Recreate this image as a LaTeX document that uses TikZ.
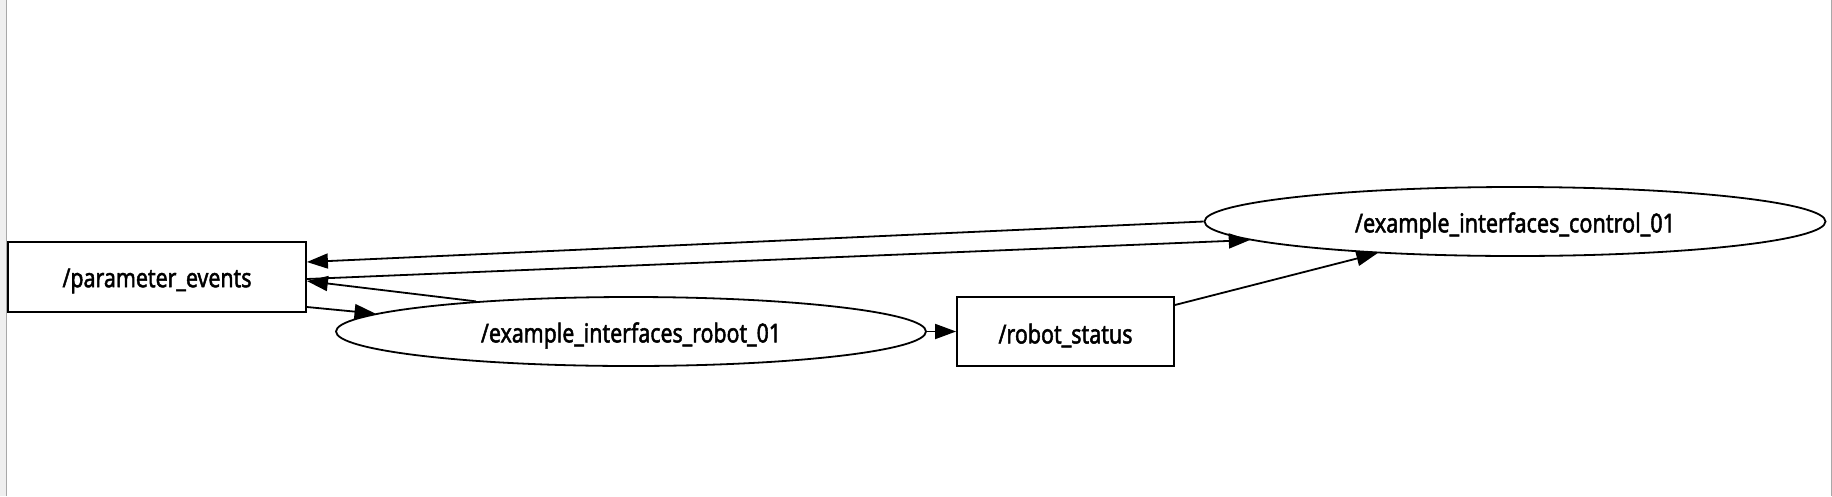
\documentclass[tikz,border=0pt]{standalone}
\usepackage{fontspec}
\usepackage{graphicx}
\setmainfont{Noto Sans}[FakeBold=2]
\usetikzlibrary{shapes.geometric,arrows.meta,calc}
\definecolor{stripgray}{HTML}{EFEFEF}
\definecolor{edgegray}{HTML}{A8A8A8}
\newcommand{\fitlabel}[2]{\raisebox{-4pt}[\height][\depth]{\resizebox{#1}{\height}{\fontsize{26}{30}\selectfont #2}}}
\tikzset{
  topicbox/.style={draw=black, line width=1.8pt, rectangle, inner sep=0pt, fill=white},
  nodeell/.style={draw=black, line width=1.8pt, ellipse, inner sep=0pt, fill=white},
  conn/.style={line width=1.8pt, -{Triangle[length=21pt,width=15pt]}},
}
\begin{document}
\begin{tikzpicture}[x=1pt,y=-1pt]
\useasboundingbox (0,0) rectangle (1832,496);
\fill[white] (0,0) rectangle (1832,496);
\fill[stripgray] (0,0) rectangle (6,496);
\draw[edgegray, line width=1pt] (6.5,0) -- (6.5,496);
\draw[edgegray, line width=1pt] (1831.5,0) -- (1831.5,496);

\node[topicbox, minimum width=298pt, minimum height=70pt] (param) at (157,277) {\fitlabel{189pt}{/parameter\_events}};
\node[nodeell, minimum width=590pt, minimum height=69pt] (robot) at (631,331.5) {\fitlabel{300pt}{/example\_interfaces\_robot\_01}};
\node[topicbox, minimum width=217pt, minimum height=69pt] (status) at (1065.5,331.5) {\fitlabel{134pt}{/robot\_status}};
\node[nodeell, minimum width=621pt, minimum height=69pt] (control) at (1515,221.5) {\fitlabel{320pt}{/example\_interfaces\_control\_01}};

\draw[conn] (control.180) -- ($(param.east)+(0,-15)$);
\draw[conn] ($(param.east)+(0,2)$) -- (control.184.5);
\draw[conn] (robot.169.4) -- ($(param.east)+(0,4)$);
\draw[conn] ($(param.east)+(0,30)$) -- (robot.176.4);
\draw[conn] (robot.east) -- (status.west);
\draw[conn] ($(status.east)+(0,-26.5)$) -- (control.193.2);
\end{tikzpicture}
\end{document}
